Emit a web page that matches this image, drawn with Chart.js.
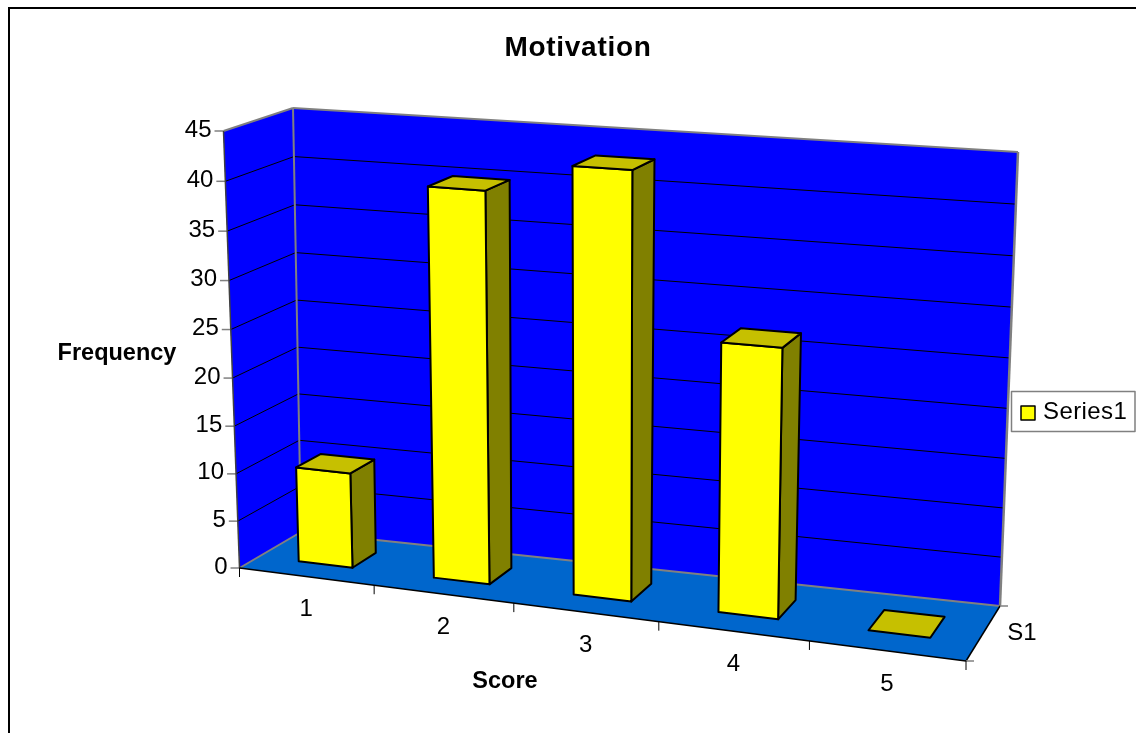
<!DOCTYPE html>
<html>
<head>
<meta charset="utf-8">
<title>Motivation</title>
<script src="https://cdn.jsdelivr.net/npm/chart.js@4"></script>
<style>
  html, body { margin: 0; padding: 0; background: #fff; overflow: hidden; }
  #box { position: absolute; left: 8px; top: 7px; width: 1128px; height: 726px;
         border-left: 2px solid #000; border-top: 2px solid #000; box-sizing: border-box; }
  canvas { position: absolute; left: 0; top: 0; }
</style>
</head>
<body>
<div id="box"></div>
<canvas id="chart" width="1136" height="733"></canvas>
<script>
var scores = ["1", "2", "3", "4", "5"];
var frequency = [10, 40, 43, 27, 0];
var seriesName = "Series1";
var depthName = "S1";
var chartTitle = "Motivation";
var xTitle = "Score";
var yTitle = "Frequency";

/* corners of the 3D box on screen */
var frontQuad = [[239.5, 568], [966, 661], [981, 183], [223.5, 131]];
var backQuad = [[301, 532], [1000, 606], [1018, 152], [293, 108]];
var barDepth = [0.32, 0.71];

/* unit square to quad (projective) */
function quadMap(q) {
  var dx1 = q[1][0] - q[2][0], dx2 = q[3][0] - q[2][0], sx = q[0][0] - q[1][0] + q[2][0] - q[3][0];
  var dy1 = q[1][1] - q[2][1], dy2 = q[3][1] - q[2][1], sy = q[0][1] - q[1][1] + q[2][1] - q[3][1];
  var det = dx1 * dy2 - dx2 * dy1;
  var g = (sx * dy2 - dx2 * sy) / det;
  var h = (dx1 * sy - sx * dy1) / det;
  var a = q[1][0] - q[0][0] + g * q[1][0], b = q[3][0] - q[0][0] + h * q[3][0], c = q[0][0];
  var d = q[1][1] - q[0][1] + g * q[1][1], e = q[3][1] - q[0][1] + h * q[3][1], f = q[0][1];
  return function (u, v) {
    var w = g * u + h * v + 1;
    return [(a * u + b * v + c) / w, (d * u + e * v + f) / w];
  };
}
var frontMap = quadMap(frontQuad);
var backMap = quadMap(backQuad);

function project(u, v, w) {
  var p = frontMap(u, v), q = backMap(u, v);
  return [p[0] + (q[0] - p[0]) * w, p[1] + (q[1] - p[1]) * w];
}

function poly(ctx, pts, fill, stroke, lw) {
  ctx.beginPath();
  pts.forEach(function (p, i) { i ? ctx.lineTo(p[0], p[1]) : ctx.moveTo(p[0], p[1]); });
  ctx.closePath();
  if (fill) { ctx.fillStyle = fill; ctx.fill(); }
  if (stroke) { ctx.strokeStyle = stroke; ctx.lineWidth = lw; ctx.lineJoin = "round"; ctx.stroke(); }
}

function line(ctx, a, b, color, lw) {
  ctx.beginPath();
  ctx.moveTo(a[0], a[1]);
  ctx.lineTo(b[0], b[1]);
  ctx.strokeStyle = color;
  ctx.lineWidth = lw;
  ctx.stroke();
}

function label(ctx, text, x, y, font, spacing, align) {
  ctx.font = font;
  ctx.letterSpacing = spacing + "px";
  ctx.textAlign = align || "center";
  ctx.textBaseline = "middle";
  ctx.fillStyle = "#000";
  ctx.fillText(text, x, y);
  ctx.letterSpacing = "0px";
}

var box3d = {
  id: "box3d",
  /* walls, floor, gridlines and axis text */
  beforeDatasetsDraw: function (chart) {
    var ctx = chart.ctx, area = chart.chartArea, yScale = chart.scales.y;
    ctx.save();
    poly(ctx, [project(0, 0, 0), project(0, 0, 1), project(1, 0, 1), project(1, 0, 0)], "#0066cc");
    poly(ctx, [project(0, 0, 1), project(1, 0, 1), project(1, 1, 1), project(0, 1, 1)], "#0000ff");
    poly(ctx, [project(0, 0, 0), project(0, 0, 1), project(0, 1, 1), project(0, 1, 0)], "#0000ff");

    yScale.ticks.forEach(function (t) {
      var v = (area.bottom - yScale.getPixelForValue(t.value)) / area.height;
      var a = project(0, v, 0), b = project(0, v, 1), c = project(1, v, 1);
      if (t.value > 0 && t.value < 45) {
        line(ctx, a, b, "#000", 1);
        line(ctx, b, c, "#000", 1);
      }
      line(ctx, [a[0] - 9, a[1]], a, "#808080", 1.5);
      label(ctx, String(t.value), a[0] - 12, a[1] - 1, "24px 'Liberation Sans'", 0, "right");
    });

    /* gray wall edges */
    var edge = "#808080";
    line(ctx, project(0, 0, 0), project(0, 0, 1), edge, 2);
    line(ctx, project(0, 0, 1), project(1, 0, 1), edge, 2);
    line(ctx, project(0, 0, 1), project(0, 1, 1), edge, 2);
    line(ctx, project(0, 1, 0), project(0, 1, 1), edge, 2);
    line(ctx, project(0, 1, 1), project(1, 1, 1), edge, 2);
    line(ctx, project(1, 1, 1), project(1, 0, 1), edge, 2.5);
    line(ctx, project(0, 0, 0), project(0, 1, 0), "#404040", 1.5);

    /* front and side floor edges with their ticks */
    line(ctx, project(0, 0, 0), project(1, 0, 0), "#000", 1.5);
    line(ctx, project(1, 0, 0), project(1, 0, 1), "#000", 1.5);
    var r0 = project(1, 0, 0), r1 = project(1, 0, 1);
    line(ctx, r0, [r0[0] + 8, r0[1]], edge, 1.5);
    line(ctx, r1, [r1[0] + 8, r1[1]], edge, 1.5);
    scores.forEach(function (s, i) {
      var p = project(i / scores.length, 0, 0);
      line(ctx, p, [p[0], p[1] + 9], "#000", 1);
    });
    var last = project(1, 0, 0);
    line(ctx, last, [last[0], last[1] + 9], "#000", 1);

    /* category labels sit below the front edge */
    scores.forEach(function (s, i) {
      var p = project((i + 0.5) / scores.length, 0, 0);
      label(ctx, s, p[0], p[1] + 33, "24px 'Liberation Sans'", 0);
    });
    label(ctx, depthName, 1022, 633, "24px 'Liberation Sans'", 0);

    label(ctx, chartTitle, 578, 48, "bold 28px 'Liberation Sans'", 0.7);
    label(ctx, xTitle, 505, 682, "bold 23.5px 'Liberation Sans'", 0);
    label(ctx, yTitle, 117, 354, "bold 23.5px 'Liberation Sans'", 0);

    /* legend */
    poly(ctx, [[1011.5, 391.5], [1135, 391.5], [1135, 431.5], [1011.5, 431.5]], "#fff", "#808080", 1.5);
    poly(ctx, [[1021, 406], [1035, 406], [1035, 420], [1021, 420]], chart.data.datasets[0].backgroundColor, "#000", 1.5);
    label(ctx, seriesName, 1043, 412, "24px 'Liberation Sans'", 0.4, "left");
    ctx.restore();
  },
  /* each bar becomes a box, built from its Chart.js element */
  beforeDatasetDraw: function (chart, args) {
    var ctx = chart.ctx, area = chart.chartArea;
    var meta = chart.getDatasetMeta(args.index);
    ctx.save();
    meta.data.forEach(function (bar) {
      var u0 = (bar.x - bar.width / 2 - area.left) / area.width;
      var u1 = (bar.x + bar.width / 2 - area.left) / area.width;
      var v0 = (area.bottom - bar.base) / area.height;
      var v1 = (area.bottom - bar.y) / area.height;
      var w0 = barDepth[0], w1 = barDepth[1];
      if (v1 > v0) {
        poly(ctx, [project(u1, v0, w0), project(u1, v0, w1), project(u1, v1, w1), project(u1, v1, w0)], "#808000", "#000", 2);
        poly(ctx, [project(u0, v0, w0), project(u1, v0, w0), project(u1, v1, w0), project(u0, v1, w0)], "#ffff00", "#000", 2);
      }
      poly(ctx, [project(u0, v1, w0), project(u1, v1, w0), project(u1, v1, w1), project(u0, v1, w1)], "#c6c000", "#000", 2);
    });
    ctx.restore();
    return false;
  }
};

new Chart(document.getElementById("chart"), {
  type: "bar",
  data: {
    labels: scores,
    datasets: [{ label: seriesName, data: frequency, backgroundColor: "#ffff00",
                 categoryPercentage: 0.6, barPercentage: 0.67 }]
  },
  options: {
    responsive: false,
    animation: false,
    layout: { padding: { left: 200, right: 150, top: 100, bottom: 80 } },
    plugins: { legend: { display: false }, title: { display: false }, tooltip: { enabled: false } },
    scales: {
      x: { display: false },
      y: { display: false, min: 0, max: 45, ticks: { stepSize: 5 } }
    }
  },
  plugins: [box3d]
});
</script>
</body>
</html>
